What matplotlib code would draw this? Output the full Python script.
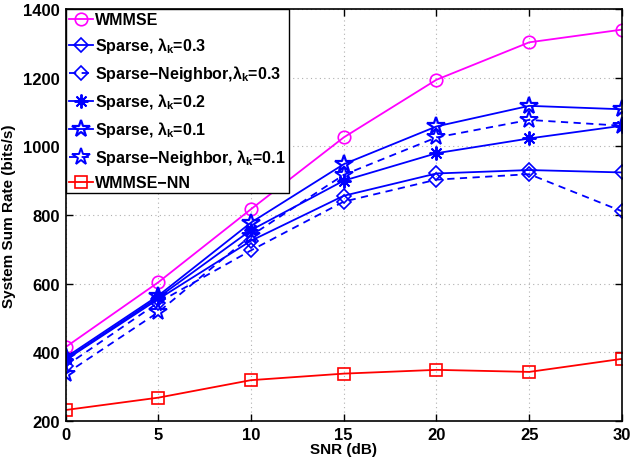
import matplotlib
matplotlib.use("Agg")
import matplotlib.pyplot as plt

plt.rcParams['font.family'] = ['Liberation Sans', 'DejaVu Sans']
plt.rcParams['font.weight'] = 'bold'
plt.rcParams['mathtext.fontset'] = 'custom'
plt.rcParams['mathtext.rm'] = 'Liberation Sans:bold'
plt.rcParams['mathtext.bf'] = 'Liberation Sans:bold'
plt.rcParams['mathtext.it'] = 'Liberation Sans:bold'

snr = [0, 5, 10, 15, 20, 25, 30]
wmmse = [415, 604, 817, 1026, 1194, 1303, 1340]
sparse_03 = [378, 555, 725, 856, 921, 931, 924]
sn_03 = [360, 545, 697, 839, 903, 919, 811]
sparse_02 = [380, 560, 756, 900, 980, 1023, 1060]
sparse_01 = [385, 565, 778, 948, 1058, 1118, 1108]
sn_01 = [337, 517, 740, 917, 1026, 1077, 1060]
wmmse_nn = [232, 268, 319, 338, 349, 343, 381]

labels = ['WMMSE',
          r'Sparse, $\lambda_\mathbf{k}$=0.3',
          r'Sparse−Neighbor,$\lambda_\mathbf{k}$=0.3',
          r'Sparse, $\lambda_\mathbf{k}$=0.2',
          r'Sparse, $\lambda_\mathbf{k}$=0.1',
          r'Sparse−Neighbor, $\lambda_\mathbf{k}$=0.1',
          'WMMSE−NN']

fig = plt.figure(figsize=(6.33, 4.64), dpi=100)
ax = fig.add_axes([0.1035, 0.0905, 0.879, 0.8879])

dash = (0, (4, 3))
blue = '#0000ff'
ax.plot(snr, wmmse, color='#ff00ff', lw=1.3, marker='o', ms=9, mfc='none', mew=1.2, label=labels[0])
ax.plot(snr, sparse_03, color=blue, lw=1.3, marker='D', ms=7, mfc='none', mew=1.2, label=labels[1])
ax.plot(snr, sn_03, color=blue, lw=1.3, ls=dash, marker='D', ms=7, mfc='none', mew=1.2, label=labels[2])
ax.plot(snr, sparse_02, color=blue, lw=1.3, marker=(8, 2, 0), ms=10, mfc='none', mew=1.4, label=labels[3])
ax.plot(snr, sparse_01, color=blue, lw=1.3, marker='*', ms=13, mfc='none', mew=1.6, label=labels[4])
ax.plot(snr, sn_01, color=blue, lw=1.3, ls=dash, marker='*', ms=13, mfc='none', mew=1.4, label=labels[5])
ax.plot(snr, wmmse_nn, color='#ff0000', lw=1.3, marker='s', ms=8, mfc='none', mew=1.2, label=labels[6])

ax.set_xlim(0, 30)
ax.set_ylim(200, 1400)
ax.set_xticks(snr)
ax.set_yticks([200, 400, 600, 800, 1000, 1200, 1400])
ax.grid(True, ls=(0, (1, 3)), color='#b0b0b0', lw=0.8)
ax.tick_params(direction='in', top=True, right=True, labelsize=12, width=1, length=5, pad=4)
for lab in ax.get_xticklabels() + ax.get_yticklabels():
    lab.set_fontweight('bold')
for s in ax.spines.values():
    s.set_linewidth(1.2)
ax.set_xlabel('SNR (dB)', fontsize=11, fontweight='bold', labelpad=0)
ax.set_ylabel('System Sum Rate (bits/s)', fontsize=11, fontweight='bold', labelpad=5)

leg = ax.legend(loc='upper left', borderaxespad=0, handlelength=1.5,
                handletextpad=0.15, labelspacing=0.5, borderpad=0.2, fancybox=False,
                framealpha=1, edgecolor='black', prop={'weight': 'bold', 'size': 11.5})
leg.get_frame().set_linewidth(1.0)

fig.savefig('out.png', dpi=100)
